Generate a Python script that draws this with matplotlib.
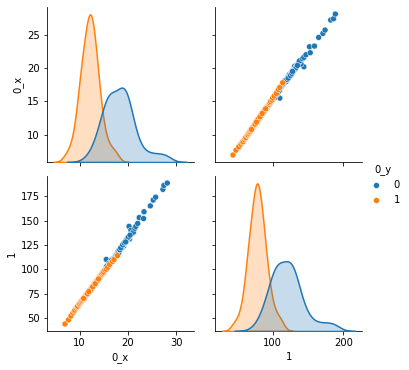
import matplotlib
matplotlib.use("Agg")
import matplotlib.pyplot as plt
import seaborn as sns
import pandas as pd

# class 0 : radius (0_x) and perimeter (1)
r0 = [11.4, 12.5, 13.0, 13.4, 13.6, 13.8, 14.0, 14.2, 14.4, 14.6, 14.9, 15.0, 15.1, 15.3,
      15.5, 15.5, 15.7, 15.8, 16.0, 16.1, 16.2, 16.3, 16.5, 16.6, 16.7, 17.0, 17.1, 17.2,
      17.4, 17.5, 17.6, 17.7, 17.9, 18.0, 18.1, 18.3, 18.5, 18.6, 18.8, 18.9, 19.0, 19.1,
      19.2, 19.4, 19.5, 19.6, 19.8, 20.0, 20.2, 20.3, 20.5, 20.6, 20.9, 21.1, 21.4, 21.6,
      22.0, 22.3, 23.2, 23.3, 24.6, 25.2, 25.7, 27.2, 27.4, 28.1,
      19.8, 20.2, 15.6, 15.9, 16.0, 16.3, 16.4, 16.6, 18.7,
      19.0, 19.3, 19.7, 19.9, 20.1, 18.3, 15.6, 16.1, 18.5, 18.9, 19.2, 19.5,
      20.4, 14.8]
p0 = [74, 82, 85, 87, 88, 89, 91, 93, 94, 95, 97, 97, 98, 100,
      101, 110, 102, 103, 104, 104, 105, 106, 107, 108, 110, 111, 111, 112,
      113, 114, 115, 115, 117, 119, 117, 120, 121, 122, 122, 123, 125, 124,
      126, 127, 129, 128, 130, 132, 144, 131, 135, 140, 137, 138, 142, 144,
      147, 153, 152, 159, 165, 171, 174, 182, 186, 188.5,
      131, 133, 102, 104, 105, 107, 107, 109, 123,
      126, 127, 130, 132, 133, 120, 103, 106, 122, 125, 127, 128,
      135, 97]

# class 1
r1 = [6.98, 7.7, 8.2, 8.6, 8.9, 9.0, 9.3, 9.5, 9.7, 9.8, 10.0, 10.1, 10.2, 10.3, 10.5,
      10.6, 10.7, 10.8, 10.9, 11.0, 11.1, 11.2, 11.3, 11.3, 11.4, 11.5, 11.6, 11.7, 11.7,
      11.8, 11.9, 11.9, 12.0, 12.0, 12.1, 12.2, 12.2, 12.3, 12.3, 12.4, 12.5, 12.5, 12.6,
      12.7, 12.8, 12.8, 12.9, 13.0, 13.0, 13.1, 13.2, 13.3, 13.4, 13.4, 13.5, 13.6, 13.7,
      13.8, 13.9, 14.0, 14.1, 14.2, 14.4, 14.5, 14.6, 14.8, 15.0, 15.2, 15.5, 15.8, 16.2,
      16.8, 17.1, 17.8,
      9.6, 9.9, 10.0, 10.2, 10.4, 10.5, 10.7, 10.9, 11.1, 11.3, 11.5, 11.8, 12.0, 12.2,
      12.4, 12.6, 12.9, 13.1, 13.3, 13.6, 13.9, 10.8, 11.6, 12.1, 12.3, 12.7, 13.2, 11.9]
p1 = [43.8, 48, 52, 55, 57, 58, 60, 61, 62, 63, 65, 65, 66, 67, 68,
      68, 69, 70, 71, 71, 72, 73, 73, 74, 74, 75, 75, 76, 75,
      77, 77, 76, 78, 77, 78, 79, 78, 80, 79, 80, 81, 80, 82,
      82, 83, 82, 84, 84, 85, 85, 86, 87, 87, 86, 88, 88, 89,
      90, 90, 91, 92, 92, 94, 94, 95, 96, 97, 99, 100, 102, 105,
      108, 110, 114,
      62, 64, 65, 66, 67, 68, 69, 70, 71, 73, 74, 76, 77, 79,
      80, 81, 83, 84, 86, 88, 90, 70, 75, 78, 79, 82, 85, 77]

labels = ["0", "1"]

df = pd.DataFrame({
    "0_x": r0 + r1,
    "1": p0 + p1,
    "0_y": [int(labels[0])] * len(r0) + [int(labels[1])] * len(r1),
})

g = sns.pairplot(df, hue="0_y", vars=["0_x", "1"], diag_kws=dict(linewidth=1.5))
fig = g.figure
fig.set_size_inches(409 / 72, 370 / 72)
fig.subplots_adjust(left=47 / 409, right=362 / 409, top=1 - 7 / 370, bottom=1 - 331 / 370,
                    wspace=0.15, hspace=0.09)
g._legend.set_bbox_to_anchor((1.0, 0.5))
fig.savefig("out.png", dpi=72)
